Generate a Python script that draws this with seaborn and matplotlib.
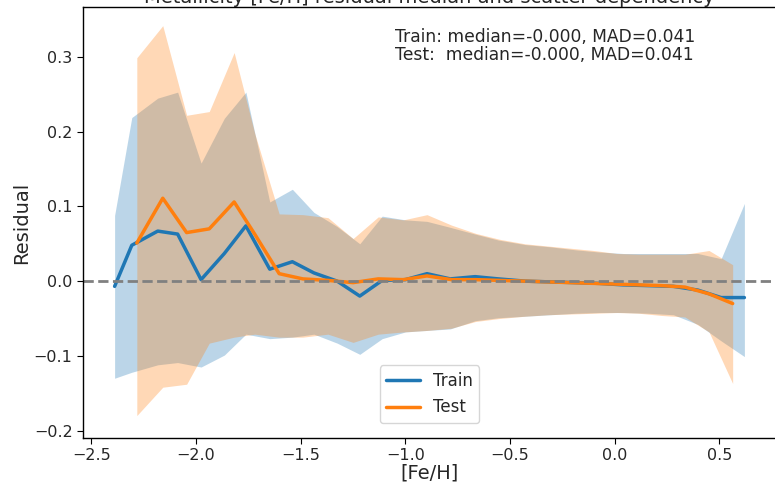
import numpy as np
import pandas as pd
import matplotlib
matplotlib.use("Agg")
import matplotlib.pyplot as plt
import seaborn as sns

# ---- data ----
train_x = [-2.389, -2.307, -2.183, -2.088, -1.976, -1.865, -1.762, -1.648, -1.540, -1.437,
           -1.326, -1.218, -1.111, -1.000, -0.897, -0.786, -0.667, -0.556, -0.429, -0.31,
           -0.19, -0.075, 0.04, 0.16, 0.28, 0.397, 0.508, 0.619]
train_med = [-0.007, 0.048, 0.067, 0.063, 0.002, 0.037, 0.074, 0.016, 0.026, 0.011,
             0.000, -0.020, 0.001, 0.002, 0.010, 0.003, 0.006, 0.003, 0.000, -0.001,
             -0.002, -0.003, -0.005, -0.006, -0.007, -0.012, -0.022, -0.022]
train_hi = [0.088, 0.219, 0.245, 0.253, 0.158, 0.218, 0.253, 0.106, 0.123, 0.092,
            0.073, 0.050, 0.087, 0.082, 0.080, 0.072, 0.063, 0.055, 0.049, 0.046,
            0.042, 0.039, 0.037, 0.037, 0.037, 0.037, 0.030, 0.104]
train_lo = [-0.130, -0.122, -0.112, -0.109, -0.115, -0.099, -0.071, -0.077, -0.075, -0.071,
            -0.083, -0.098, -0.077, -0.068, -0.066, -0.064, -0.053, -0.049, -0.047, -0.045,
            -0.043, -0.042, -0.042, -0.043, -0.045, -0.058, -0.080, -0.101]

test_x = [-2.283, -2.159, -2.045, -1.937, -1.818, -1.72, -1.603, -1.49, -1.37, -1.25,
          -1.13, -1.01, -0.897, -0.78, -0.665, -0.55, -0.43, -0.32, -0.21, -0.10,
          0.01, 0.115, 0.225, 0.335, 0.45, 0.563]
test_med = [0.051, 0.111, 0.065, 0.070, 0.106, 0.063, 0.010, 0.003, 0.001, -0.002,
            0.003, 0.002, 0.007, 0.002, 0.002, 0.001, 0.000, -0.001, -0.002, -0.003,
            -0.004, -0.005, -0.006, -0.008, -0.017, -0.030]
test_hi = [0.299, 0.342, 0.222, 0.227, 0.306, 0.198, 0.090, 0.089, 0.085, 0.057,
           0.086, 0.082, 0.089, 0.075, 0.064, 0.056, 0.050, 0.047, 0.044, 0.041,
           0.037, 0.036, 0.036, 0.036, 0.041, 0.022]
test_lo = [-0.180, -0.142, -0.138, -0.083, -0.075, -0.071, -0.075, -0.075, -0.071, -0.082,
           -0.071, -0.068, -0.066, -0.063, -0.054, -0.050, -0.047, -0.045, -0.044, -0.043,
           -0.042, -0.043, -0.046, -0.048, -0.068, -0.137]

series_names = ["Train", "Test"]
stats_text = ["Train: median=-0.000, MAD=0.041", "Test:  median=-0.000, MAD=0.041"]
title_text = "Metallicity [Fe/H] residual median and scatter dependency"

# ---- figure ----
sns.set_style("ticks")
plt.rcParams["font.family"] = ["DejaVu Sans"]

fig = plt.figure(figsize=(7.75, 4.86), dpi=100)
ax = fig.add_axes([83 / 775, 48 / 486, 693 / 775, 431 / 486])

df = pd.concat([
    pd.DataFrame({"x": train_x, "y": train_med, "set": series_names[0]}),
    pd.DataFrame({"x": test_x, "y": test_med, "set": series_names[1]}),
])
palette = {"Train": "#1f77b4", "Test": "#ff7f0e"}

ax.fill_between(train_x, train_lo, train_hi, color=palette["Train"], alpha=0.3, lw=0)
ax.fill_between(test_x, test_lo, test_hi, color=palette["Test"], alpha=0.3, lw=0)
sns.lineplot(data=df, x="x", y="y", hue="set", palette=palette, ax=ax,
             linewidth=2.5, sort=False, estimator=None)
ax.axhline(0, color="gray", ls="--", lw=2)

ax.set_xlabel("[Fe/H]", fontsize=14, labelpad=0)
ax.set_ylabel("Residual", fontsize=14, labelpad=2)
ax.tick_params(labelsize=11.5, length=4, color="black")
for s in ax.spines.values():
    s.set_color("black")
    s.set_linewidth(1.0)

ax.set_xticks([-2.5, -2.0, -1.5, -1.0, -0.5, 0.0, 0.5])
ax.set_yticks([-0.2, -0.1, 0.0, 0.1, 0.2, 0.3])
ax.set_xlim(-2.54, 0.77)
ax.set_ylim(-0.21, 0.367)

ax.text(0.45, 0.952, "\n".join(stats_text), transform=ax.transAxes,
        ha="left", va="top", fontsize=12.3, linespacing=1.05)

leg = ax.legend(loc="lower center", fontsize=12, frameon=True, borderaxespad=0.9)
leg.set_title(None)

ax.set_title(title_text, fontsize=14, pad=3)

fig.savefig("out.png", dpi=100)
